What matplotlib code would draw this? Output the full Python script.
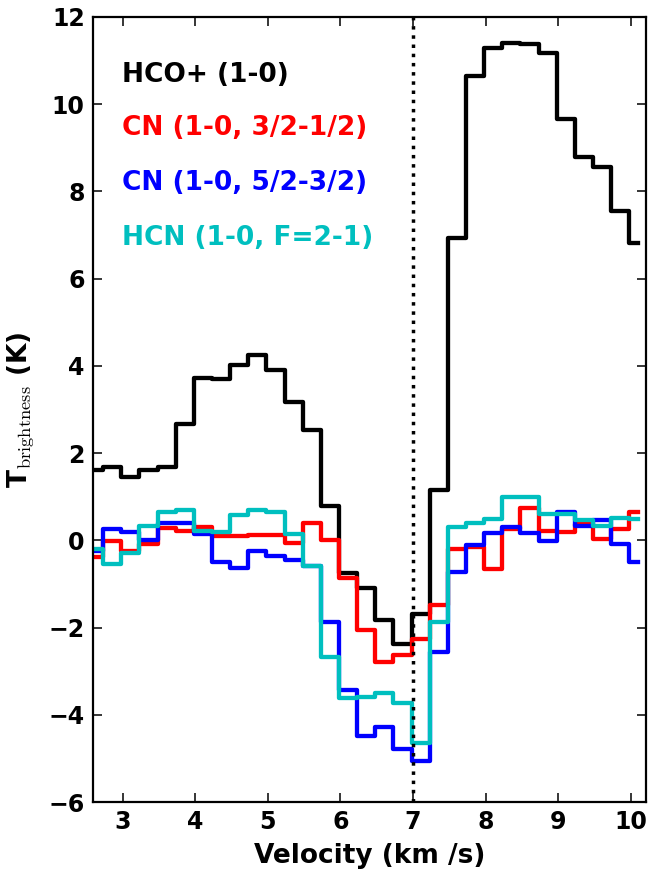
import matplotlib
matplotlib.use("Agg")
import matplotlib.pyplot as plt

plt.rcParams['mathtext.fontset'] = 'cm'
plt.rcParams['font.family'] = 'DejaVu Sans'
plt.rcParams['font.weight'] = 'bold'

# channel centres (km/s)
velocity = [2.605, 2.855, 3.105, 3.355, 3.605, 3.855, 4.105, 4.355, 4.605, 4.855,
            5.105, 5.355, 5.605, 5.855, 6.105, 6.355, 6.605, 6.855, 7.105, 7.355,
            7.605, 7.855, 8.105, 8.355, 8.605, 8.855, 9.105, 9.355, 9.605, 9.855,
            10.105]

hco = [1.62, 1.68, 1.45, 1.61, 1.68, 2.66, 3.73, 3.69, 4.03, 4.24,
       3.90, 3.17, 2.54, 0.78, -0.75, -1.09, -1.82, -2.37, -1.68, 1.16,
       6.93, 10.65, 11.30, 11.40, 11.38, 11.17, 9.67, 8.78, 8.55, 7.54,
       6.81]

cn32 = [-0.38, -0.02, -0.24, -0.08, 0.28, 0.21, 0.30, 0.09, 0.09, 0.13,
        0.13, -0.06, 0.40, 0.00, -0.86, -2.05, -2.79, -2.62, -2.26, -1.48,
        -0.19, -0.16, -0.66, 0.25, 0.74, 0.21, 0.18, 0.38, 0.03, 0.26,
        0.65]

cn52 = [-0.25, 0.26, 0.18, 0.00, 0.40, 0.40, 0.15, -0.50, -0.63, -0.25,
        -0.35, -0.44, -0.58, -1.88, -3.44, -4.48, -4.29, -4.79, -5.07, -2.57,
        -0.73, -0.10, 0.17, 0.31, 0.17, -0.01, 0.65, 0.34, 0.46, -0.08,
        -0.50]

hcn = [-0.19, -0.54, -0.29, 0.34, 0.65, 0.70, 0.21, 0.19, 0.57, 0.70,
       0.64, 0.15, -0.58, -2.68, -3.62, -3.60, -3.50, -3.73, -4.65, -1.88,
       0.30, 0.40, 0.49, 0.99, 0.99, 0.61, 0.61, 0.46, 0.34, 0.51,
       0.48]

series = [
    (hco, 'k', 'HCO+ (1-0)'),
    (cn32, 'r', 'CN (1-0, 3/2-1/2)'),
    (cn52, 'b', 'CN (1-0, 5/2-3/2)'),
    (hcn, 'c', 'HCN (1-0, F=2-1)'),
]
v_sys = 7.0

fig = plt.figure(figsize=(6.49, 8.71), dpi=100)
ax = fig.add_axes([0.1433, 0.0792, 0.8521, 0.9013])

for vals, col, lab in series:
    ax.step(velocity, vals, where='mid', color=col, lw=3.1)

ax.axvline(v_sys, color='k', ls=':', lw=2.5)

ypos = [0.9176, 0.8497, 0.7796, 0.7096]
for (vals, col, lab), yp in zip(series, ypos):
    ax.text(0.0524, yp, lab, color=col, fontsize=19, fontweight='bold',
            transform=ax.transAxes, ha='left', va='baseline')

ax.set_xlim(2.59, 10.21)
ax.set_ylim(-6, 12)
ax.set_xticks([3, 4, 5, 6, 7, 8, 9, 10])
ax.set_yticks([-6, -4, -2, 0, 2, 4, 6, 8, 10, 12])
ax.tick_params(direction='in', length=6.5, width=1.1, top=True, right=True,
               labelsize=17)
ax.tick_params(axis='y', pad=6)
ax.tick_params(axis='x', pad=6)
for lbl in ax.get_xticklabels() + ax.get_yticklabels():
    lbl.set_fontweight('bold')
for sp in ax.spines.values():
    sp.set_linewidth(1.6)

ax.set_xlabel('Velocity (km /s)', fontsize=19, fontweight='bold', labelpad=6)
ax.set_ylabel(r'T$_{\rm brightness}$ (K)', fontsize=19, fontweight='bold', labelpad=9)

fig.savefig('out.png', dpi=100)
